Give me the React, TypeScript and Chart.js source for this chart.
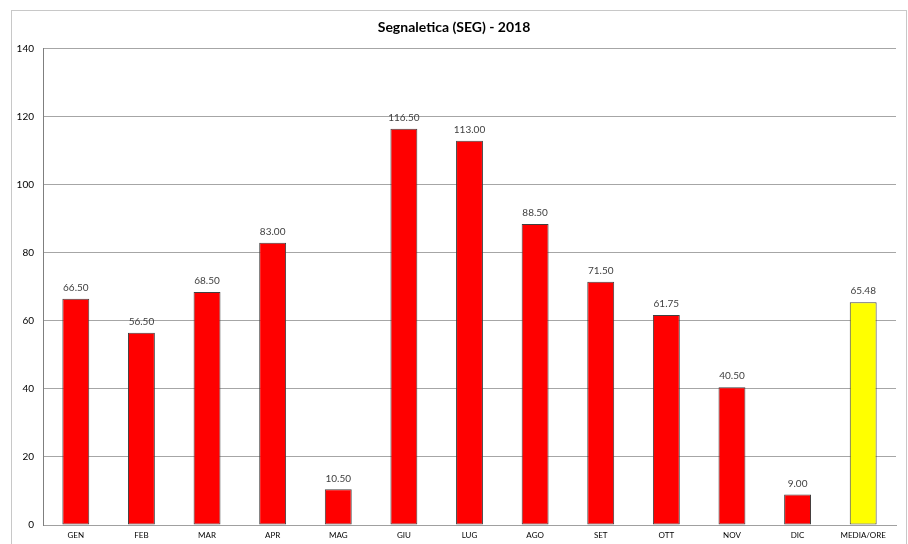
import React, { useEffect, useRef } from "react";
import { Chart, registerables } from "chart.js";

Chart.register(...registerables);

const categories = ["GEN", "FEB", "MAR", "APR", "MAG", "GIU", "LUG", "AGO", "SET", "OTT", "NOV", "DIC", "MEDIA/ORE"];
const values = [66.5, 56.5, 68.5, 83.0, 10.5, 116.5, 113.0, 88.5, 71.5, 61.75, 40.5, 9.0, 65.48];
const barColors = ["#ff0000", "#ff0000", "#ff0000", "#ff0000", "#ff0000", "#ff0000", "#ff0000", "#ff0000", "#ff0000", "#ff0000", "#ff0000", "#ff0000", "#ffff00"];
const titleText = "Segnaletica (SEG) - 2018";
const yMax = 140;
const yStep = 20;

const FONT = "Lato, 'Open Sans', sans-serif";

const framePlugin = {
  id: "frame",
  beforeDraw(chart: any) {
    const ctx = chart.ctx;
    ctx.save();
    ctx.fillStyle = "#ffffff";
    ctx.fillRect(0, 0, chart.width, chart.height);
    ctx.strokeStyle = "#c8c8c8";
    ctx.lineWidth = 1;
    ctx.strokeRect(11.5, 10.5, 895, 600);
    ctx.restore();
  },
};

const labelPlugin = {
  id: "valueLabels",
  afterDatasetsDraw(chart: any) {
    const ctx = chart.ctx;
    const meta = chart.getDatasetMeta(0);
    ctx.save();
    ctx.font = `10px ${FONT}`;
    ctx.fillStyle = "#404040";
    ctx.textAlign = "center";
    ctx.textBaseline = "middle";
    meta.data.forEach((bar: any, i: number) => {
      ctx.fillText(values[i].toFixed(2), bar.x, bar.y - 11);
    });
    ctx.restore();
  },
};

export default function App() {
  const ref = useRef<HTMLCanvasElement | null>(null);
  useEffect(() => {
    if (!ref.current) return;
    const chart = new Chart(ref.current, {
      type: "bar",
      data: {
        labels: categories,
        datasets: [
          {
            data: values,
            backgroundColor: barColors,
            borderColor: "#404040",
            borderWidth: 1,
            borderSkipped: false,
            barPercentage: 0.41,
            categoryPercentage: 1,
          },
        ],
      },
      options: {
        animation: false,
        responsive: false,
        maintainAspectRatio: false,
        layout: { padding: { left: 12, right: 12, top: 10, bottom: 0 } },
        plugins: {
          legend: { display: false },
          tooltip: { enabled: false },
          title: {
            display: true,
            text: titleText,
            color: "#000000",
            font: { family: FONT, size: 14, weight: "bold" },
            padding: { top: 9, bottom: 13 },
          },
        },
        scales: {
          x: {
            grid: { display: false, drawTicks: false },
            border: { display: true, color: "#a0a0a0", width: 1 },
            ticks: {
              color: "#000000",
              font: { family: FONT, size: 8 },
              padding: 6,
              maxRotation: 0,
              autoSkip: false,
            },
            afterFit(scale: any) {
              scale.height = 19;
            },
          },
          y: {
            min: 0,
            max: yMax,
            ticks: {
              stepSize: yStep,
              color: "#000000",
              font: { family: FONT, size: 10 },
              padding: 9,
            },
            grid: { color: "#a6a6a6", drawTicks: false },
            border: { display: true, color: "#7f7f7f", width: 1 },
            afterFit(scale: any) {
              scale.width = 31;
            },
          },
        },
      },
      plugins: [framePlugin, labelPlugin],
    });
    return () => chart.destroy();
  }, []);
  return (
    <div style={{ position: "fixed", left: 0, top: 0, width: 908, height: 544 }}>
      <canvas ref={ref} width={908} height={544} style={{ width: 908, height: 544 }} />
    </div>
  );
}
